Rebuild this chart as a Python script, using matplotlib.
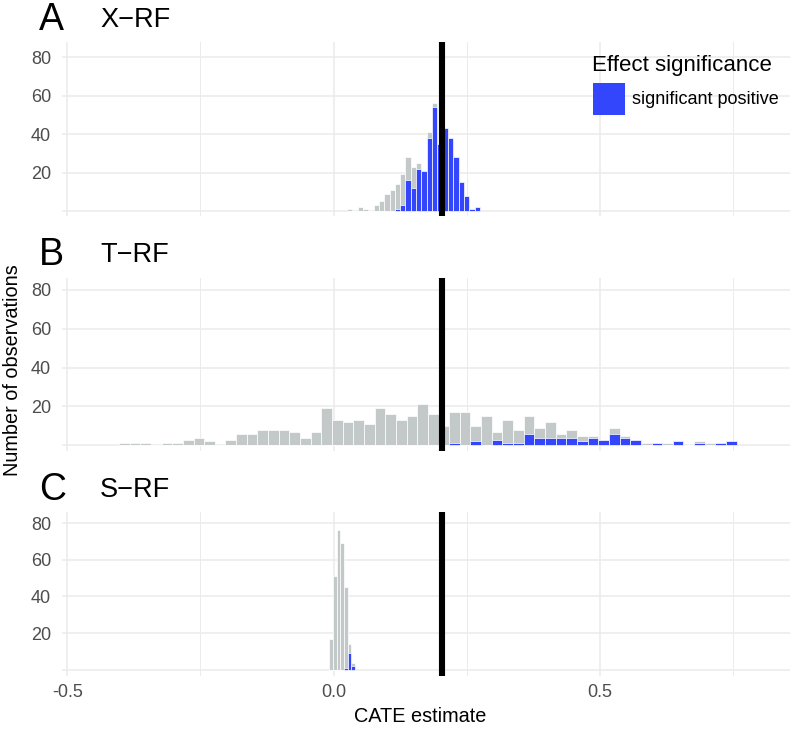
import numpy as np
import matplotlib
matplotlib.use("Agg")
import matplotlib.pyplot as plt

plt.rcParams['font.family'] = ['Liberation Sans', 'DejaVu Sans']

# ---------------- data ----------------
# Panel A (X-RF): bin width 0.01
a_centers = [0.03, 0.04, 0.05, 0.06, 0.07, 0.08, 0.09, 0.10, 0.11, 0.12, 0.13, 0.14,
             0.15, 0.16, 0.17, 0.18, 0.19, 0.20, 0.21, 0.22, 0.23, 0.24, 0.25, 0.26, 0.27]
a_total = [1, 0, 2, 1, 0, 3, 5, 9, 11, 14, 19, 28, 23, 25, 21, 41, 56, 35, 43, 38, 28, 15, 8, 1, 2]
a_sig = [0, 0, 0, 0, 0, 0, 0, 0, 0, 1, 3, 16, 12, 22, 21, 38, 54, 35, 43, 38, 28, 15, 8, 1, 2]
a_width = 0.01

# Panel B (T-RF): bin width 0.02, first bin centre -0.393
b_start = -0.393
b_width = 0.02
b_total = [1, 1, 1, 0, 1, 1, 3, 4, 2, 0, 3, 6, 6, 8, 8, 8, 7, 4, 7, 19,
           13, 12, 13, 11, 19, 16, 13, 15, 21, 16, 10, 17, 17, 10, 15, 7, 13, 8, 15, 9,
           12, 6, 8, 5, 5, 3, 9, 5, 3, 1, 1, 1, 2, 0, 2, 1, 1, 2]
b_sig = [0, 0, 0, 0, 0, 0, 0, 0, 0, 0, 0, 0, 0, 0, 0, 0, 0, 0, 0, 0,
         0, 0, 0, 0, 0, 0, 0, 0, 0, 0, 0, 1, 0, 2, 0, 3, 1, 1, 6, 4,
         4, 4, 4, 2, 4, 3, 6, 4, 3, 0, 1, 0, 2, 0, 1, 0, 1, 2]

# Panel C (S-RF): bin width 0.007
c_centers = [-0.005, 0.002, 0.009, 0.016, 0.023, 0.030, 0.037]
c_total = [17, 51, 76, 69, 45, 14, 4]
c_sig = [0, 0, 0, 0, 1, 9, 2]
c_width = 0.007

true_effect = 0.2035
panel_letters = ["A", "B", "C"]
panel_titles = ["X\u2212RF", "T\u2212RF", "S\u2212RF"]
y_ticks = [20, 40, 60, 80]
x_ticks = [-0.5, 0.0, 0.5]
x_tick_labels = ["-0.5", "0.0", "0.5"]
x_minor = [-0.25, 0.25, 0.75]
legend_title = "Effect significance"
legend_label = "significant positive"

GRAY = "#C3C9C8"
BLUE = "#3446FB"
GRID = "#EBEBEB"
TXT = "#4D4D4D"

W, H = 796, 734
fig = plt.figure(figsize=(W / 100, H / 100), dpi=100)

def box(left, top, right, bottom):
    return [left / W, 1 - bottom / H, (right - left) / W, (bottom - top) / H]

boxes = [box(62, 42, 790, 216), box(62, 278, 790, 451), box(62, 512, 790, 676)]
ylims = [(-2.6, 87.8), (-2.9, 86.0), (-3.3, 86.0)]

b_centers = [b_start + b_width * i for i in range(len(b_total))]
datasets = [
    (a_centers, a_total, a_sig, a_width),
    (b_centers, b_total, b_sig, b_width),
    (c_centers, c_total, c_sig, c_width),
]

axes = []
for i, (bx, (cen, tot, sig, w)) in enumerate(zip(boxes, datasets)):
    ax = fig.add_axes(bx)
    axes.append(ax)
    ax.set_xlim(-0.51, 0.857)
    ax.set_ylim(*ylims[i])
    for s in ax.spines.values():
        s.set_visible(False)
    ax.set_facecolor("white")
    # grid
    for y in [0] + y_ticks:
        ax.axhline(y, color=GRID, lw=1.1, zorder=0)
    for x in x_ticks:
        ax.axvline(x, color=GRID, lw=1.1, zorder=0)
    for x in x_minor:
        ax.axvline(x, color=GRID, lw=0.7, zorder=0)
    ax.bar(cen, tot, width=w, color=GRAY, edgecolor="white", linewidth=0.5, zorder=2)
    ax.bar(cen, sig, width=w, color=BLUE, edgecolor="white", linewidth=0.5, zorder=3)
    ax.axvline(true_effect, color="black", lw=4.4, zorder=4)
    ax.set_yticks(y_ticks)
    ax.set_yticklabels([str(v) for v in y_ticks], color=TXT, fontsize=13)
    ax.tick_params(axis="both", length=0, pad=8)
    ax.set_xticks(x_ticks)
    if i < 2:
        ax.set_xticklabels([])
    else:
        ax.set_xticklabels(x_tick_labels, color=TXT, fontsize=13)
        ax.tick_params(axis="x", pad=6)

# panel titles
title_y = [20, 255, 490]
for ty, letter, title in zip(title_y, panel_letters, panel_titles):
    fig.text(39 / W, 1 - ty / H, letter, fontsize=27, va="center", ha="left", color="black")
    fig.text(100 / W, 1 - ty / H, title, fontsize=19.5, va="center", ha="left", color="black")

# axis labels
fig.text(420 / W, 1 - 717 / H, "CATE estimate", fontsize=14.3, ha="center", va="center", color="black")
fig.text(13 / W, 1 - 370 / H, "Number of observations", fontsize=14.3, ha="center", va="center",
         rotation=90, color="black")

# legend
fig.text(592 / W, 1 - 65 / H, legend_title, fontsize=16, ha="left", va="center", color="black")
fig.patches.append(plt.Rectangle((593 / W, 1 - 115 / H), 32 / W, 32 / H, transform=fig.transFigure,
                                 facecolor=BLUE, edgecolor="none", figure=fig))
fig.text(632 / W, 1 - 100 / H, legend_label, fontsize=13, ha="left", va="center", color="black")

fig.savefig("out.png", dpi=100, facecolor="white")
